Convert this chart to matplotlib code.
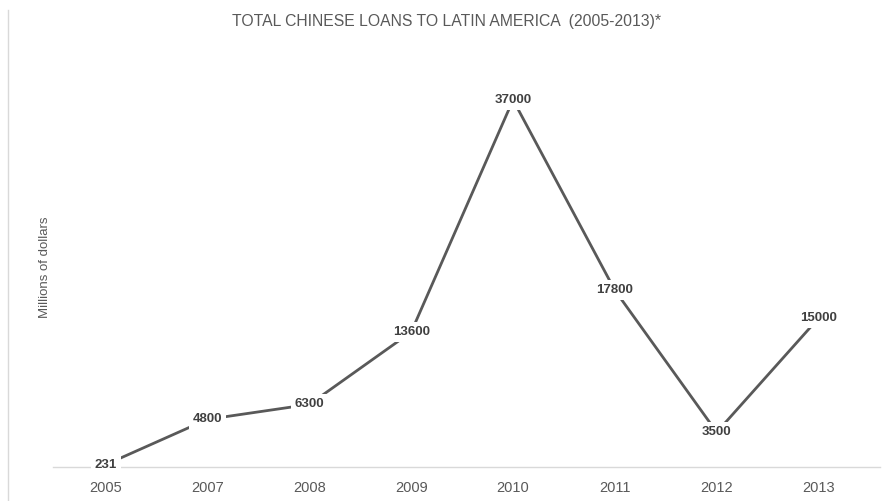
import matplotlib
matplotlib.use("Agg")
import matplotlib.pyplot as plt
from matplotlib.lines import Line2D

years = ["2005", "2007", "2008", "2009", "2010", "2011", "2012", "2013"]
loans = [231, 4800, 6300, 13600, 37000, 17800, 3500, 15000]

plt.rcParams['font.family'] = ['Liberation Sans', 'DejaVu Sans']

fig = plt.figure(figsize=(8.94, 5.01), dpi=100)
ax = fig.add_axes([0.059, 0.068, 0.925, 0.80])

x = list(range(len(years)))
ax.plot(x, loans, color="#595959", linewidth=2)
for xi, v in zip(x, loans):
    ax.text(xi, v, str(v), ha="center", va="center", fontsize=9.5,
            fontweight="bold", color="#404040",
            bbox=dict(boxstyle="square,pad=0.3", fc="white", ec="none"))

ax.set_xlim(-0.52, 7.6)
ax.set_ylim(0, 40400)
ax.set_xticks(x)
ax.set_xticklabels(years, fontsize=10.5, color="#595959")
ax.tick_params(axis="x", length=0, pad=10)
ax.set_yticks([])
for s in ["top", "right", "left"]:
    ax.spines[s].set_visible(False)
ax.spines["bottom"].set_color("#d9d9d9")
ax.spines["bottom"].set_linewidth(1)

fig.text(0.5, 0.957, "TOTAL CHINESE LOANS TO LATIN AMERICA  (2005-2013)*",
         ha="center", va="center", fontsize=11.3, color="#595959")
fig.text(0.05, 0.467, "Millions of dollars", rotation=90, ha="center",
         va="center", fontsize=9.5, color="#595959")

fig.add_artist(Line2D([0.009, 0.009], [0.0, 0.98], transform=fig.transFigure,
                      color="#d9d9d9", linewidth=1))

fig.savefig("out.png", dpi=100)
